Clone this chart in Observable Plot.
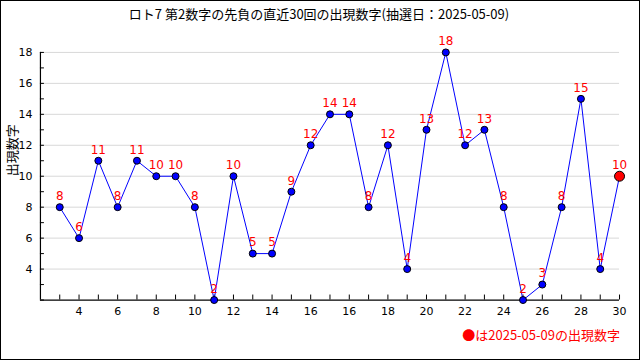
<!DOCTYPE html>
<html><head><meta charset="utf-8">
<script src="https://cdn.jsdelivr.net/npm/d3@7"></script>
<script src="https://cdn.jsdelivr.net/npm/@observablehq/plot@0.6"></script>
<style>
body{margin:0;background:#fff}
#wrap{position:relative;width:640px;height:360px;box-sizing:border-box;border:1px solid #000;overflow:hidden;background:#fff}
#title{position:absolute;top:3px;left:0;width:636px;text-align:center;font:13px "Noto Sans CJK JP";color:#000;white-space:nowrap}
#legend{position:absolute;right:19px;top:324px;color:#f00;font:13px "Noto Sans CJK JP";white-space:nowrap}
#chart{position:absolute;left:-1px;top:-1px}
</style></head>
<body>
<div id="wrap">
<div id="chart"></div>
<div id="title">ロト7 第2数字の先負の直近30回の出現数字(抽選日：2025-05-09)</div>
<div id="legend">●は2025-05-09の出現数字</div>
</div>
<script>
const draws = [1,2,3,4,5,6,7,8,9,10,11,12,13,14,15,16,17,18,19,20,21,22,23,24,25,26,27,28,29,30];
const values = [8,6,11,8,11,10,10,8,2,10,5,5,9,12,14,14,8,12,4,13,18,12,13,8,2,3,8,15,4,10];
const xTickPositions = [2,4,6,8,10,12,14,16,18,20,22,24,26,28,30];
const xTickLabels = ["4","6","8","10","12","14","16","16","18","20","22","24","26","28","30"];
const yTicks = [4,6,8,10,12,14,16,18];
const latestIndex = 30;

const data = draws.map((d, i) => ({draw: d, value: values[i], latest: d === latestIndex}));

const plot = Plot.plot({
  width: 640, height: 360,
  marginLeft: 40, marginRight: 20, marginTop: 52, marginBottom: 60,
  style: {fontFamily: "DejaVu Sans", fontSize: "11px", background: "transparent", overflow: "visible"},
  x: {domain: [0, 30]},
  y: {domain: [2, 18]},
  marks: [
    Plot.gridY(yTicks, {stroke: "#d8d8d8", strokeOpacity: 1}),
    Plot.tickX(d3.range(1, 31), {x: d => d, insetTop: 243, stroke: "#000"}),
    Plot.tickY(d3.range(2, 19), {y: d => d, insetRight: 576, stroke: "#000"}),
    Plot.ruleX([0], {stroke: "#000", strokeWidth: 1.2}),
    Plot.ruleY([2], {stroke: "#000", strokeWidth: 1.2}),
    Plot.axisX({ticks: xTickPositions, tickFormat: d => xTickLabels[xTickPositions.indexOf(d)], tickSize: 0, tickPadding: 7, label: null, fill: "#000"}),
    Plot.axisY({ticks: yTicks, tickSize: 0, tickPadding: 8, label: null, fill: "#000"}),
    Plot.text(["出現数字"], {frameAnchor: "left", text: d => d, rotate: -90, dx: -28, fontSize: 13, fontFamily: "Noto Sans CJK JP", fill: "#000"}),
    Plot.line(data, {x: "draw", y: "value", stroke: "#0000ff", strokeWidth: 1}),
    Plot.dot(data.filter(d => !d.latest), {x: "draw", y: "value", r: 3.5, fill: "#0000ff", stroke: "#000", strokeWidth: 1}),
    Plot.dot(data.filter(d => d.latest), {x: "draw", y: "value", r: 5, fill: "#ff0000", stroke: "#000", strokeWidth: 1}),
    Plot.text(data, {x: "draw", y: "value", text: d => String(d.value), dy: -11, fill: "#ff0000", fontSize: 12, fontFamily: "DejaVu Sans"})
  ]
});
document.getElementById("chart").appendChild(plot);
</script>
</body></html>
